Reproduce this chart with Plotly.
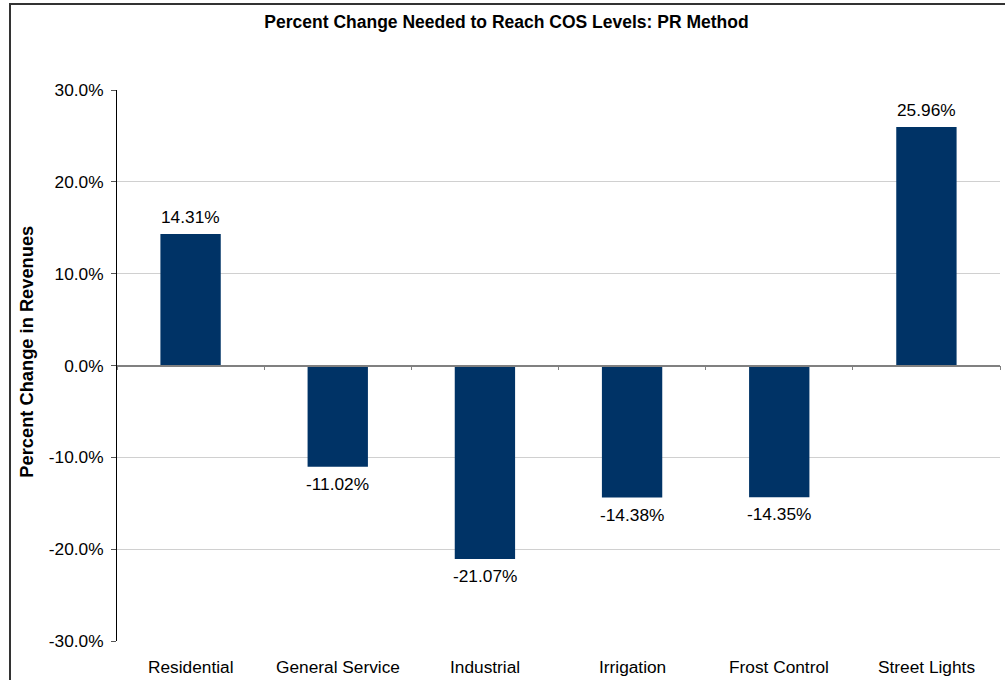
import plotly.graph_objects as go

categories = ["Residential", "General Service", "Industrial", "Irrigation", "Frost Control", "Street Lights"]
values = [14.31, -11.02, -21.07, -14.38, -14.35, 25.96]
y_ticks = [-30, -20, -10, 0, 10, 20, 30]
title_text = "Percent Change Needed to Reach COS Levels: PR Method"
y_title = "Percent Change in Revenues"

FONT = "Liberation Sans, Arial, sans-serif"
BAR_COLOR = "#003366"

fig = go.Figure()
fig.add_trace(go.Bar(
    x=categories, y=values, marker=dict(color=BAR_COLOR, line=dict(width=0)),
    width=0.41, showlegend=False, hoverinfo="skip",
))

annotations = []
for c, v in zip(categories, values):
    pos = v >= 0
    annotations.append(dict(
        x=c, y=v, xref="x", yref="y", text=f"{v:.2f}%", showarrow=False,
        yanchor="bottom" if pos else "top", yshift=5 if pos else -5,
        font=dict(family=FONT, size=17.3, color="#000"),
    ))
for c in categories:
    annotations.append(dict(
        x=c, y=-0.047, xref="x", yref="paper", text=c, showarrow=False,
        yanchor="middle", font=dict(family=FONT, size=17.3, color="#000"),
    ))
annotations.append(dict(
    x=-0.1025, y=0.526, xref="paper", yref="paper", text=f"<b>{y_title}</b>",
    textangle=-90, showarrow=False, xanchor="center", yanchor="middle",
    font=dict(family=FONT, size=18.3, color="#000"),
))

fig.update_layout(
    width=1005, height=680,
    margin=dict(l=117, r=5, t=90, b=39),
    paper_bgcolor="white", plot_bgcolor="white",
    title=dict(text=f"<b>{title_text}</b>", x=506.5 / 1005, xref="container",
               y=1 - 22 / 680, yref="container", xanchor="center", yanchor="middle",
               font=dict(family=FONT, size=17.5, color="#000")),
    xaxis=dict(anchor="free", position=0.5, showline=True, linecolor="#808080", linewidth=1.5,
               ticks="outside", tickson="boundaries", ticklen=4, tickcolor="#808080", tickwidth=1,
               showticklabels=False, showgrid=False, zeroline=False,
               range=[-0.5, len(categories) - 0.5]),
    yaxis=dict(range=[-30, 30], tickvals=y_ticks, ticktext=[f"{t:.1f}%" for t in y_ticks],
               showline=True, linecolor="#000", linewidth=1, ticks="outside", ticklen=5,
               tickcolor="#555", showgrid=True, gridcolor="#d0d0d0", gridwidth=1,
               ticklabelstandoff=4,
               zeroline=False, tickfont=dict(family=FONT, size=17.3, color="#000")),
    annotations=annotations,
    shapes=[dict(type="rect", xref="paper", yref="paper",
                 x0=(10 - 117) / 883, x1=1.05, y0=-0.2, y1=(641 - 4) / 551,
                 line=dict(color="#333", width=2), fillcolor="rgba(0,0,0,0)", layer="above")],
    bargap=0.59,
)

fig.write_html("out.html", config={"displayModeBar": False},
               post_script="document.body.style.margin='0';")
